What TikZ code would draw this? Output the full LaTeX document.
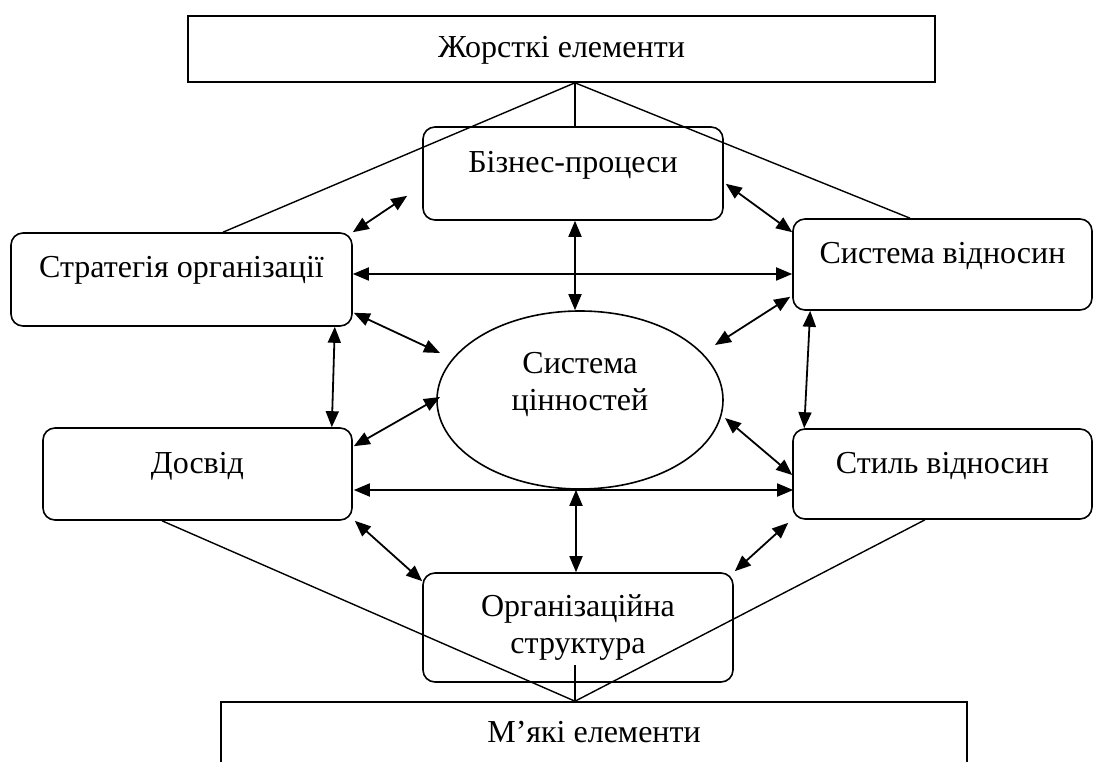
\documentclass[tikz,border=0pt]{standalone}
\usepackage{fontspec}
\setmainfont{Liberation Serif}
\usetikzlibrary{arrows.meta,shapes.geometric,calc}
\tikzset{
  boxframe/.style={draw, line width=1.6pt, rounded corners=12pt, inner sep=0pt, anchor=center},
  sharpframe/.style={draw, line width=1.6pt, inner sep=0pt, anchor=center},
  link/.style={line width=1.4pt},
  biarrow/.style={line width=1.8pt, {Triangle[length=16pt,width=13pt]}-{Triangle[length=16pt,width=13pt]}}
}
\begin{document}
\begin{tikzpicture}[x=1pt, y=-1pt, font=\fontsize{32}{37}\selectfont]
\clip (0,0) rectangle (1093,762);
\fill[white] (0,0) rectangle (1093,762);

% nodes
\node[sharpframe, minimum width=747pt, minimum height=66pt, text height=22pt, text depth=4pt] (top) at (561.5,49) {Жорсткі елементи};
\node[boxframe, minimum width=300pt, minimum height=93pt, text height=22pt, text depth=23pt] (biz) at (573,173.5) {Бізнес-процеси};
\node[boxframe, minimum width=341pt, minimum height=93pt, text height=22pt, text depth=25pt] (strat) at (181.5,279.5) {Стратегія організації};
\node[boxframe, minimum width=299pt, minimum height=91pt, text height=22pt, text depth=24pt] (sys) at (942.5,264.5) {Система відносин};
\node[boxframe, minimum width=309pt, minimum height=92pt, text height=22pt, text depth=24pt] (dos) at (197.5,474) {Досвід};
\node[boxframe, minimum width=299pt, minimum height=90pt, text height=22pt, text depth=24pt] (styl) at (942.5,474) {Стиль відносин};
\node[boxframe, minimum width=310pt, minimum height=109pt, align=center] (org) at (578,627.5) {Організаційна\\структура};
\node[sharpframe, minimum width=746pt, minimum height=80pt, text height=22pt, text depth=22pt] (bot) at (594,742) {М’які елементи};
\node[ellipse, draw, line width=1.6pt, inner sep=0pt, minimum width=286pt, minimum height=178pt, align=center] (ell) at (580,400) {Система\\цінностей\\\mbox{}};

% hard elements links
\coordinate (tp) at ([xshift=13.5pt]top.south);
\draw[link] (tp) -- (tp |- biz.north);
\draw[link] (tp) -- ([xshift=41.5pt]strat.north);
\draw[link] (tp) -- ([xshift=-32.5pt]sys.north);

% soft elements links
\coordinate (bp) at ([xshift=-19pt]bot.north);
\draw[link] (bp) -- ([xshift=-35.5pt]dos.south);
\draw[link] (bp) -- ([xshift=-17.5pt]styl.south);
\draw[link] (bp) -- ([xshift=-3pt,yshift=-37.5pt]org.center);

% arrows
\draw[biarrow] (strat.north east) -- ([xshift=-15pt,yshift=25pt]biz.south west);
\draw[biarrow] ([yshift=5.5pt]strat.east) -- ([yshift=5.5pt]strat.east -| sys.west);
\draw[biarrow] ([xshift=1pt,yshift=14pt]strat.south east) -- ([xshift=-140pt,yshift=47pt]ell.center);
\draw[biarrow] ([xshift=-18pt]strat.south east) -- ([xshift=-21pt]dos.north east);
\draw[biarrow] ([xshift=1pt,yshift=-19pt]dos.north east) -- ([xshift=-140pt,yshift=3pt]ell.center);
\draw[biarrow] ([xshift=1pt,yshift=-16pt]dos.east) -- ([xshift=1pt,yshift=-16pt]dos.east -| styl.west);
\draw[biarrow] ([xshift=2pt,yshift=37pt]biz.south east) -- ([yshift=-14pt]sys.north west);
\draw[biarrow] ([xshift=2pt]biz.south) -- ([xshift=2pt]biz.south |- ell.north);
\draw[biarrow] ([xshift=135pt,yshift=55pt]ell.center) -- ([xshift=-2pt,yshift=14pt]sys.south west);
\draw[biarrow] ([xshift=18pt]sys.south west) -- ([xshift=12pt]styl.north west);
\draw[biarrow] ([xshift=145pt,yshift=-18pt]ell.center) -- ([yshift=-1pt]styl.west);
\draw[biarrow] ([xshift=-4pt]ell.south) -- ([xshift=-4pt]ell.south |- org.north);
\draw[biarrow] ([xshift=2pt]dos.south east) -- ([yshift=-9pt]org.north west);
\draw[biarrow] ([xshift=-4pt,yshift=-3pt]styl.south west) -- ([xshift=1pt,yshift=1pt]org.north east);
\end{tikzpicture}
\end{document}
